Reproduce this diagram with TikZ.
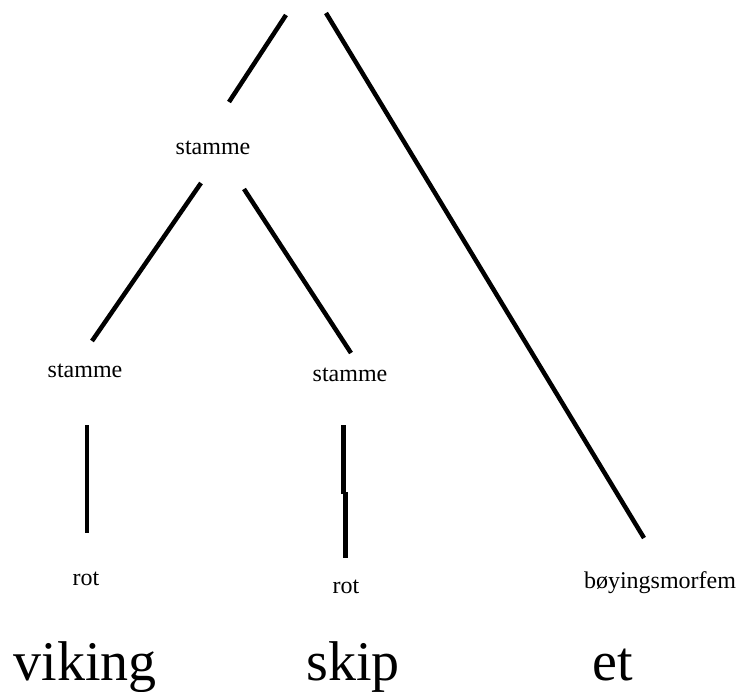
\documentclass[tikz,border=0pt]{standalone}
\usepackage{fontspec}
\setmainfont{Liberation Serif}
\begin{document}
\begin{tikzpicture}[x=1pt,y=-1pt,
  branch/.style={line width=4.5pt,black},
  lbl/.style={font=\fontsize{24}{28}\selectfont,anchor=base,inner sep=0pt},
  word/.style={font=\fontsize{56}{64}\selectfont,anchor=base,inner sep=0pt}]
\useasboundingbox (0,0) rectangle (741,691);
% labels
\node[lbl] (s0) at (213,154) {stamme};
\node[lbl] (s1) at (85,377) {stamme};
\node[lbl] (s2) at (350,381) {stamme};
\node[lbl] (r1) at (86,585) {rot};
\node[lbl] (r2) at (346,593) {rot};
\node[lbl] (bm) at (660,588) {bøyingsmorfem};
\node[word] (w1) at (85,680) {viking};
\node[word] (w2) at (353,680) {skip};
\node[word] (w3) at (613,680) {et};
% line ends
\coordinate (t1) at (286,15);
\coordinate (t2) at (229,102);
\coordinate (t3) at (326,13);
\coordinate (t4) at (644,538);
\coordinate (a1) at (201,183);
\coordinate (a2) at (92,341);
\coordinate (b1) at (244,189);
\coordinate (b2) at (351,353);
\coordinate (c1) at (87,425);
\coordinate (c2) at (87,533);
\coordinate (d1) at (343.5,425);
\coordinate (d2) at (343.5,494);
\coordinate (d3) at (345.5,492);
\coordinate (d4) at (345.5,558);
% branches
\draw[branch] (t1) -- (t2);
\draw[branch] (t3) -- (t4);
\draw[branch] (a1) -- (a2);
\draw[branch] (b1) -- (b2);
\draw[branch] (c1) -- (c2);
\draw[branch] (d1) -- (d2);
\draw[branch] (d3) -- (d4);
\end{tikzpicture}
\end{document}
